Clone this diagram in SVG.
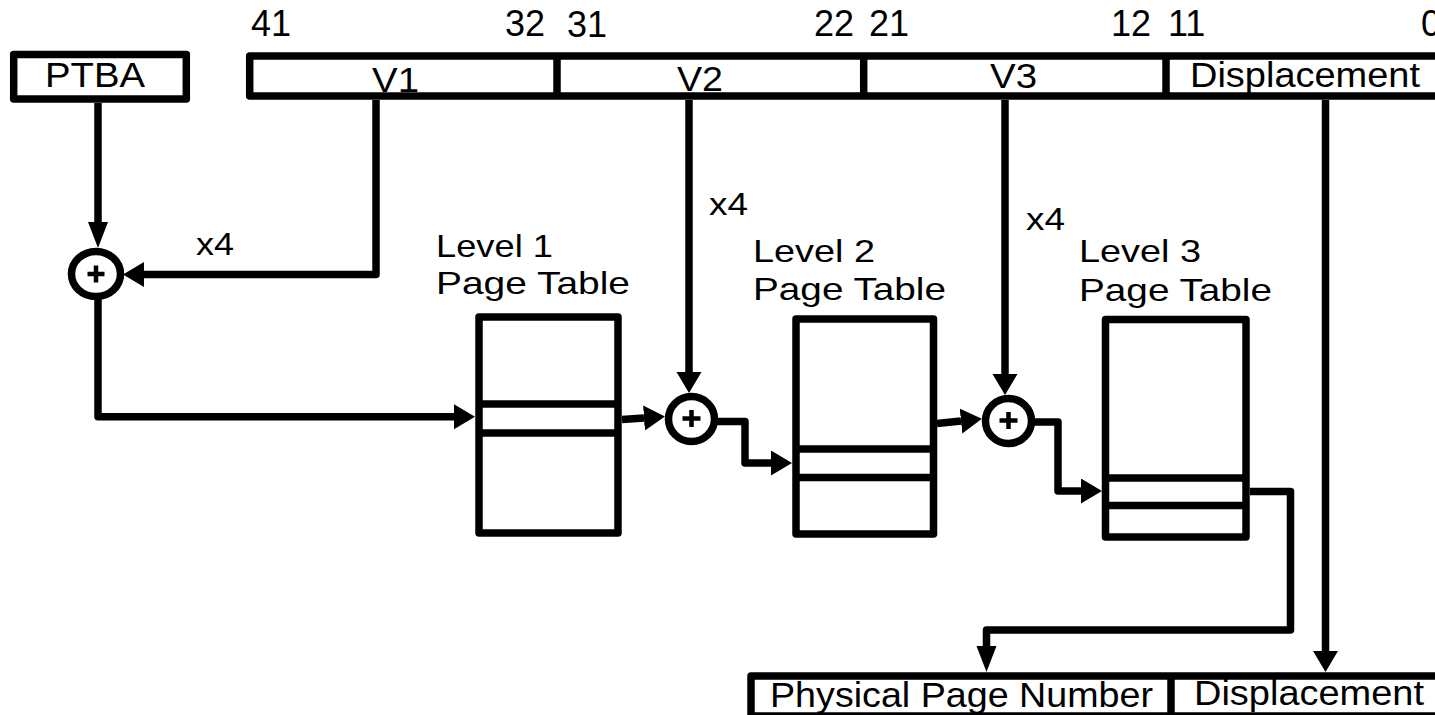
<svg xmlns="http://www.w3.org/2000/svg" width="1435" height="715" viewBox="0 0 1435 715">
<style>
  .box { fill: #fff; stroke: #000; stroke-width: 7.5; stroke-linejoin: round; }
  .ln { fill: none; stroke: #000; stroke-width: 7.5; }
  .wire { fill: none; stroke: #000; stroke-width: 7.5; stroke-linejoin: round; }
  .plus { fill: none; stroke: #000; stroke-width: 4.5; }
  text { font-family: "Liberation Sans", Arial, sans-serif; fill: #000; }
  .bit { font-size: 36px; }
  .lbl { font-size: 35px; }
  .lvl { font-size: 32px; }
  .mul { font-size: 31px; }
</style>
<defs>
  <marker id="ahW" markerUnits="userSpaceOnUse" markerWidth="22" markerHeight="26" refX="0" refY="12.5" orient="auto">
    <path d="M0,0 L21,12.5 L0,25 Z" fill="#000"/>
  </marker>
  <marker id="ahL" markerUnits="userSpaceOnUse" markerWidth="27" markerHeight="21" refX="0" refY="10" orient="auto">
    <path d="M0,0 L26,10 L0,20 Z" fill="#000"/>
  </marker>
</defs>

<!-- bit numbers -->
<g id="bits">
  <text class="bit" x="251" y="36">41</text>
  <text class="bit" x="505" y="36">32</text>
  <text class="bit" x="567" y="37">31</text>
  <text class="bit" x="814" y="36">22</text>
  <text class="bit" x="869" y="36">21</text>
  <text class="bit" x="1111" y="36">12</text>
  <text class="bit" x="1168" y="36">11</text>
  <text class="bit" x="1421" y="36">0</text>
</g>

<!-- PTBA -->
<g id="ptba">
  <rect class="box" x="13.7" y="54.5" width="172.6" height="44.5"/>
  <text class="lbl" x="45" y="87" textLength="100" lengthAdjust="spacingAndGlyphs">PTBA</text>
</g>

<!-- virtual address register -->
<g id="vaddr">
  <rect class="box" x="249.7" y="56" width="1200" height="40"/>
  <line class="ln" x1="557" y1="56" x2="557" y2="96"/>
  <line class="ln" x1="863.7" y1="56" x2="863.7" y2="96"/>
  <line class="ln" x1="1166" y1="56" x2="1166" y2="96"/>
  <text class="lbl" x="372" y="92" textLength="47" lengthAdjust="spacingAndGlyphs">V1</text>
  <text class="lbl" x="677" y="91" textLength="46" lengthAdjust="spacingAndGlyphs">V2</text>
  <text class="lbl" x="990" y="88" textLength="47" lengthAdjust="spacingAndGlyphs">V3</text>
  <text class="lbl" x="1190" y="87" textLength="230" lengthAdjust="spacingAndGlyphs">Displacement</text>
</g>

<!-- physical address register -->
<g id="paddr">
  <rect class="box" x="751" y="676" width="700" height="40"/>
  <line class="ln" x1="1171" y1="676" x2="1171" y2="716"/>
  <text class="lbl" x="770" y="707" textLength="383" lengthAdjust="spacingAndGlyphs">Physical Page Number</text>
  <text class="lbl" x="1194" y="705" textLength="230" lengthAdjust="spacingAndGlyphs">Displacement</text>
</g>

<!-- adders -->
<g id="adder1">
  <ellipse class="box" cx="96" cy="274" rx="24.5" ry="22.5"/>
  <path class="plus" d="M87.5,274 H104.5 M96,265.5 V282.5"/>
</g>
<g id="adder2">
  <ellipse class="box" cx="691.5" cy="419" rx="23" ry="22.5"/>
  <path class="plus" d="M682.5,418.5 H700.5 M691.5,410 V427"/>
</g>
<g id="adder3">
  <ellipse class="box" cx="1008.5" cy="421" rx="23" ry="22.5"/>
  <path class="plus" d="M999.5,420.5 H1017.5 M1008.5,412 V429"/>
</g>

<!-- page tables -->
<g id="table1">
  <rect class="box" x="479" y="317" width="139" height="216"/>
  <line class="ln" x1="479" y1="404" x2="618" y2="404"/>
  <line class="ln" x1="479" y1="433" x2="618" y2="433"/>
  <text class="lvl" x="436" y="257" textLength="117" lengthAdjust="spacingAndGlyphs">Level 1</text>
  <text class="lvl" x="436" y="294" textLength="194" lengthAdjust="spacingAndGlyphs">Page Table</text>
</g>
<g id="table2">
  <rect class="box" x="796" y="319" width="137.5" height="215"/>
  <line class="ln" x1="796" y1="449" x2="933.5" y2="449"/>
  <line class="ln" x1="796" y1="477.5" x2="933.5" y2="477.5"/>
  <text class="lvl" x="753" y="262" textLength="122" lengthAdjust="spacingAndGlyphs">Level 2</text>
  <text class="lvl" x="753" y="300" textLength="193" lengthAdjust="spacingAndGlyphs">Page Table</text>
</g>
<g id="table3">
  <rect class="box" x="1105.5" y="319.5" width="140.5" height="217.5"/>
  <line class="ln" x1="1105.5" y1="478" x2="1246" y2="478"/>
  <line class="ln" x1="1105.5" y1="505.5" x2="1246" y2="505.5"/>
  <text class="lvl" x="1079" y="262" textLength="122" lengthAdjust="spacingAndGlyphs">Level 3</text>
  <text class="lvl" x="1079" y="301" textLength="193" lengthAdjust="spacingAndGlyphs">Page Table</text>
</g>

<!-- multiplier labels -->
<g id="labels">
  <text class="mul" x="196" y="255" textLength="38" lengthAdjust="spacingAndGlyphs">x4</text>
  <text class="mul" x="709" y="215" textLength="39" lengthAdjust="spacingAndGlyphs">x4</text>
  <text class="mul" x="1026" y="230" textLength="39" lengthAdjust="spacingAndGlyphs">x4</text>
</g>

<!-- connectors -->
<g id="connectors">
  <path class="wire" d="M98,103 V222" marker-end="url(#ahL)"/>
  <path class="wire" d="M376,100 V274.5 H144" marker-end="url(#ahW)"/>
  <path class="wire" d="M98,297 V416.7 H454" marker-end="url(#ahW)"/>
  <path class="wire" d="M622,419.5 L644,418" marker-end="url(#ahW)"/>
  <path class="wire" d="M689,100 V372" marker-end="url(#ahW)"/>
  <path class="wire" d="M714,421.5 H745 V463 H771" marker-end="url(#ahW)"/>
  <path class="wire" d="M937,423.5 L961,421" marker-end="url(#ahW)"/>
  <path class="wire" d="M1005,100 V374" marker-end="url(#ahW)"/>
  <path class="wire" d="M1031,422 H1058 V491 H1081" marker-end="url(#ahW)"/>
  <path class="wire" d="M1250,491.5 H1290.5 V630 H986.5 V646" marker-end="url(#ahL)"/>
  <path class="wire" d="M1325.5,100 V651" marker-end="url(#ahW)"/>
</g>
</svg>
